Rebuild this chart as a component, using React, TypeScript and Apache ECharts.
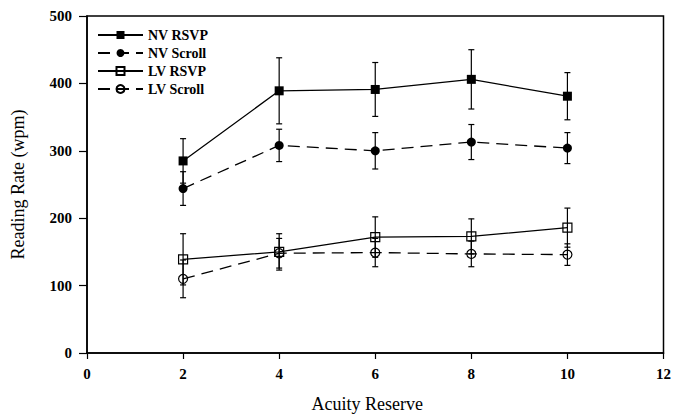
import React, { useEffect, useRef } from "react";
import * as echarts from "echarts";

const xValues = [2, 4, 6, 8, 10];
const nvRsvp = [285, 389, 391, 406, 381];
const nvRsvpErr = [33, 49, 40, 44, 35];
const nvScroll = [244, 308, 300, 313, 304];
const nvScrollErr = [25, 24, 27, 26, 23];
const lvRsvp = [139, 150, 172, 173, 186];
const lvRsvpErr = [38, 27, 30, 26, 29];
const lvScroll = [110, 148, 149, 147, 146];
const lvScrollErr = [28, 22, 21, 19, 16];
const seriesNames = ["NV RSVP", "NV Scroll", "LV RSVP", "LV Scroll"];

const FONT = "Liberation Serif, Times New Roman, serif";

function pairs(vals: number[]) {
  return xValues.map((x, i) => [x, vals[i]]);
}
function errs(vals: number[], e: number[]) {
  return xValues.map((x, i) => [x, vals[i] - e[i], vals[i] + e[i]]);
}

const errRender = (params: any, api: any) => {
  const x = api.value(0);
  const lo = api.coord([x, api.value(1)]);
  const hi = api.coord([x, api.value(2)]);
  const w = 3;
  const st = { stroke: "#000", lineWidth: 1.2 };
  return {
    type: "group",
    children: [
      { type: "line", shape: { x1: lo[0], y1: lo[1], x2: hi[0], y2: hi[1] }, style: st },
      { type: "line", shape: { x1: lo[0] - w, y1: lo[1], x2: lo[0] + w, y2: lo[1] }, style: st },
      { type: "line", shape: { x1: hi[0] - w, y1: hi[1], x2: hi[0] + w, y2: hi[1] }, style: st },
    ],
  };
};

export default function App() {
  const ref = useRef<HTMLDivElement>(null);
  useEffect(() => {
    if (!ref.current) return;
    const chart = echarts.init(ref.current, undefined, { renderer: "svg" });
    const dash = [12, 7];
    const lineSeries = (name: string, data: number[], symbol: string, filled: boolean, dashed: boolean, size: number) => ({
      name,
      type: "line",
      data: pairs(data),
      symbol,
      symbolSize: size,
      z: 2,
      color: "#000",
      lineStyle: { color: "#000", width: 1.3, type: dashed ? dash : "solid" },
      itemStyle: filled
        ? { color: "#000", borderColor: "#000", borderWidth: 0 }
        : { color: "rgba(0,0,0,0)", borderColor: "#000", borderWidth: 1.2 },
    });
    const errSeries = (data: number[], e: number[]) => ({
      type: "custom",
      data: errs(data, e),
      renderItem: errRender,
      encode: { x: 0, y: [1, 2] },
      z: 3,
      silent: true,
    });
    chart.setOption({
      animation: false,
      backgroundColor: "#fff",
      textStyle: { fontFamily: FONT, color: "#000" },
      grid: {
        left: 87,
        right: 9,
        top: 16,
        bottom: 61,
        show: true,
        borderColor: "#000",
        borderWidth: 1.5,
      },
      legend: {
        data: seriesNames,
        orient: "vertical",
        left: 97,
        top: 28,
        padding: 0,
        itemWidth: 45,
        itemHeight: 10,
        itemGap: 4,
        textStyle: { fontFamily: FONT, fontSize: 14, fontWeight: "bold", color: "#000", lineHeight: 14 },
      },
      xAxis: {
        type: "value",
        min: 0,
        max: 12,
        interval: 2,
        name: "Acuity Reserve",
        nameLocation: "middle",
        nameGap: 42,
        nameTextStyle: { fontFamily: FONT, fontSize: 18, color: "#000", padding: [0, 16, 0, 0] },
        splitLine: { show: false },
        axisLine: { lineStyle: { color: "#000", width: 1.5 } },
        axisTick: { inside: false, length: 6, lineStyle: { color: "#000", width: 1.2 } },
        axisLabel: { margin: 13, fontFamily: FONT, fontSize: 15, fontWeight: "bold", color: "#000" },
      },
      yAxis: {
        type: "value",
        min: 0,
        max: 500,
        interval: 100,
        name: "Reading Rate (wpm)",
        nameLocation: "middle",
        nameGap: 60,
        nameRotate: 90,
        nameTextStyle: { fontFamily: FONT, fontSize: 18, color: "#000" },
        splitLine: { show: false },
        axisLine: { lineStyle: { color: "#000", width: 1.5 } },
        axisTick: { inside: false, length: 8, lineStyle: { color: "#000", width: 1.2 } },
        axisLabel: { margin: 15, fontFamily: FONT, fontSize: 15, fontWeight: "bold", color: "#000" },
      },
      series: [
        lineSeries("NV RSVP", nvRsvp, "rect", true, false, 9),
        lineSeries("NV Scroll", nvScroll, "circle", true, true, 9),
        lineSeries("LV RSVP", lvRsvp, "rect", false, false, 9),
        lineSeries("LV Scroll", lvScroll, "circle", false, true, 9),
        errSeries(nvRsvp, nvRsvpErr),
        errSeries(nvScroll, nvScrollErr),
        errSeries(lvRsvp, lvRsvpErr),
        errSeries(lvScroll, lvScrollErr),
      ],
    });
    return () => chart.dispose();
  }, []);
  return (
    <div
      ref={ref}
      style={{ position: "absolute", left: 0, top: 0, width: 674, height: 418 }}
    />
  );
}
